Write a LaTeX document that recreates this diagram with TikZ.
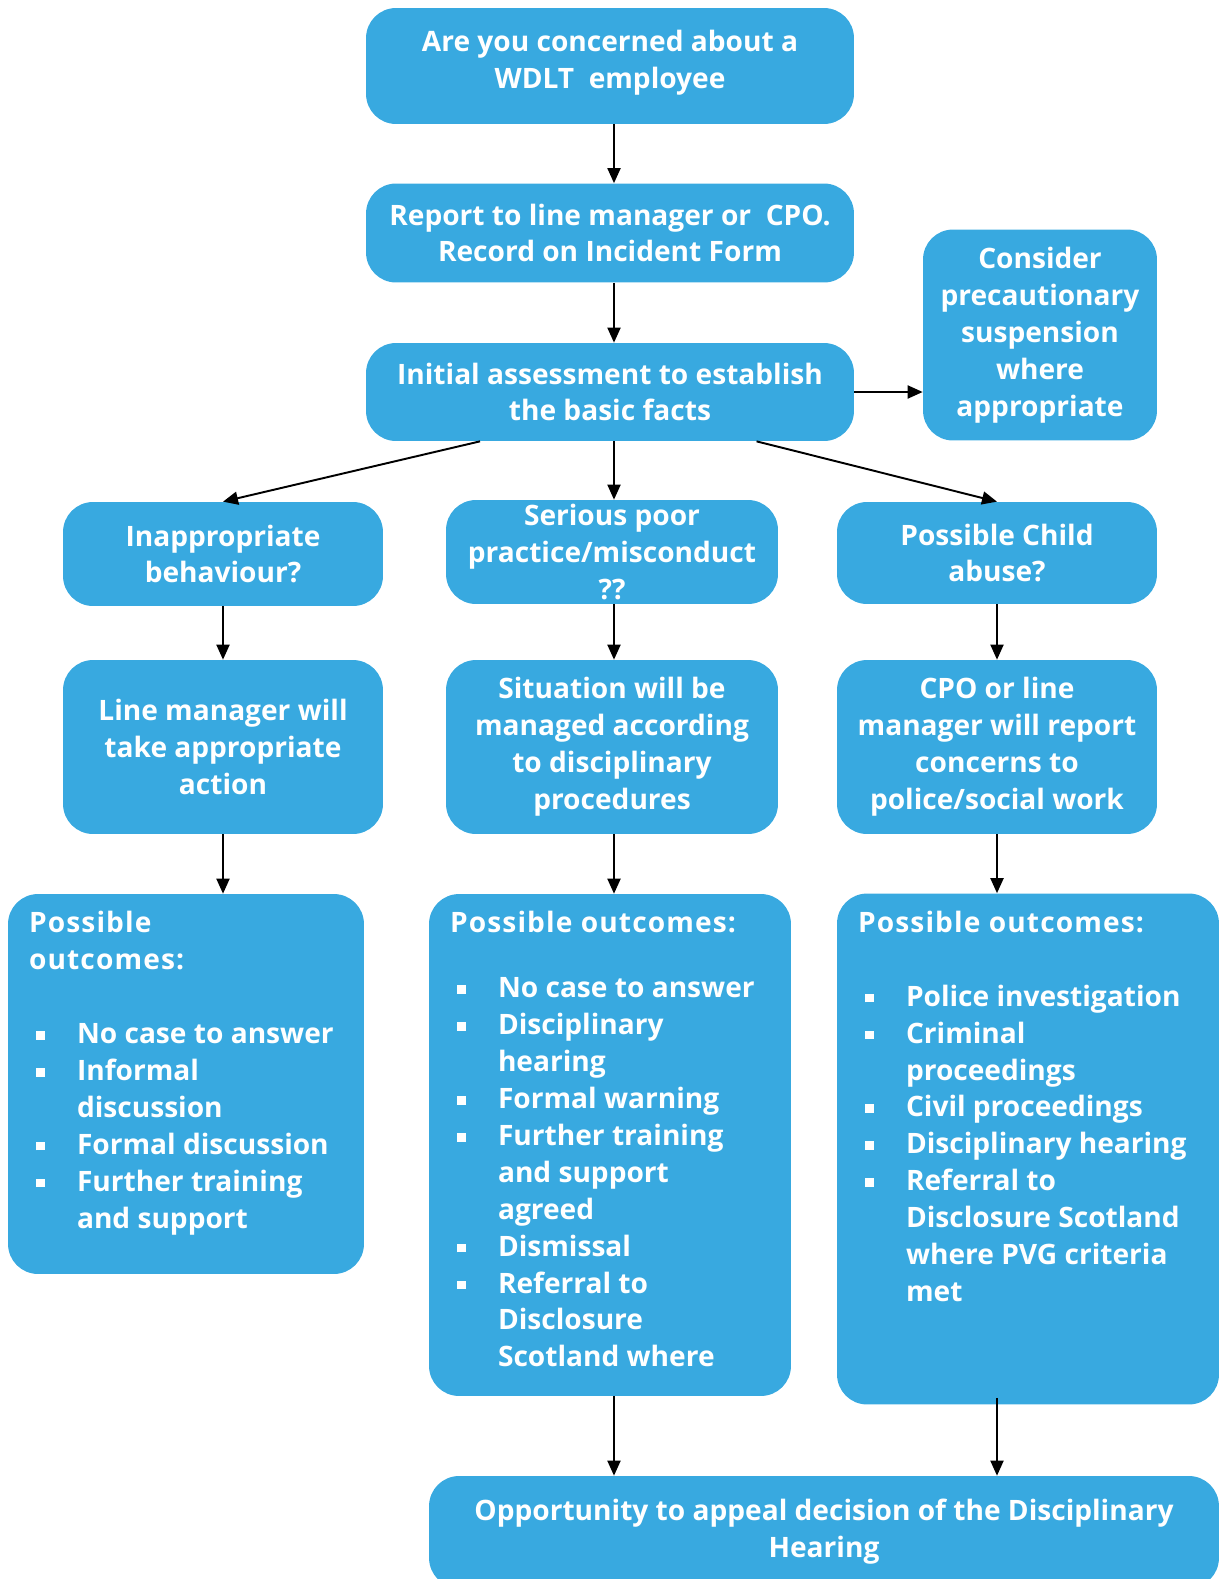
\documentclass[tikz,border=0pt]{standalone}
\usepackage{fontspec}
\setmainfont{Open Sans}
\usetikzlibrary{arrows.meta,calc}
\definecolor{boxblue}{HTML}{38A9E0}
\newcommand\bul{\par\hangindent=0.96cm\hangafter=1\noindent\makebox[0.96cm][l]{\hspace{0.14cm}\rule[0.14em]{0.17cm}{0.17cm}}}
\newcommand\outtext[3]{\parbox[c][#2][t]{#1}{\parindent=0pt\rightskip=0pt plus 1fil #3}}
\newcommand\outhead[1]{{\addfontfeature{LetterSpace=4}#1}}

\tikzset{
  box/.style={fill=boxblue, rounded corners=0.6cm, text=white, align=center,
    font=\fontsize{16}{21}\selectfont\bfseries, inner sep=0pt},
  outbox/.style={box, align=left},
  arr/.style={line width=1.1pt, -{Triangle[length=0.3cm,width=0.26cm]}}
}

\begin{document}
\begin{tikzpicture}[x=0.02cm, y=-0.02cm]
			%%%%% START %%%%%
			\useasboundingbox (0, 0) rectangle (1221, 1579);
			
			\node[box, minimum width=9.76cm, minimum height=2.32cm] (concern) at (610, 66) {Are you concerned about a\\WDLT\ \ employee\vspace{4pt}};
			\node[box, minimum width=9.76cm, minimum height=1.98cm] (report) at (610, 233) {Report to line manager or\ \ CPO.\\Record on Incident Form};
			\node[box, minimum width=9.76cm, minimum height=1.96cm] (initial) at (610, 392) {Initial assessment to establish\\the basic facts};
			\node[box, minimum width=4.68cm, minimum height=4.22cm] (suspend) at (1040, 335) {Consider\\precautionary\\suspension\\where\\appropriate};
			
			\node[box, minimum width=6.4cm, minimum height=2.08cm] (inapp) at (223, 554) {Inappropriate\\behaviour?};
			\node[box, minimum width=6.64cm, minimum height=2.08cm] (serious) at (612, 552) {Serious poor\\practice/misconduct\\??};
			\node[box, minimum width=6.4cm, minimum height=2.04cm] (abuse) at (997, 553) {Possible Child\\abuse?};
			
			\node[box, minimum width=6.4cm, minimum height=3.48cm] (linemgr) at (223, 747) {Line manager will\\take appropriate\\action};
			\node[box, minimum width=6.64cm, minimum height=3.48cm] (situation) at (612, 747) {Situation will be\\managed according\\to disciplinary\\procedures};
			\node[box, minimum width=6.4cm, minimum height=3.48cm] (police) at (997, 747) {CPO or line\\manager will report\\concerns to\\police/social work};
			
			\node[outbox, minimum width=7.12cm, minimum height=7.6cm] (outL) at (186, 1084) {\outtext{6.28cm}{6.9cm}{\outhead{Possible\newline outcomes:}\par\vspace{21pt}
				\bul No case to answer\bul Informal\newline discussion\bul Formal discussion\bul Further training\newline and support}};
			\node[outbox, minimum width=7.24cm, minimum height=10.04cm] (outM) at (610, 1145) {\outtext{6.4cm}{9.34cm}{\outhead{Possible outcomes:}\par\vspace{16pt}
				\bul No case to answer\bul Disciplinary\newline hearing\bul Formal warning\bul Further training\newline and support\newline agreed\bul Dismissal\bul Referral to\newline Disclosure\newline Scotland where}};
			\node[outbox, minimum width=7.64cm, minimum height=10.22cm] (outR) at (1028, 1149) {\outtext{6.8cm}{9.52cm}{\outhead{Possible outcomes:}\par\vspace{21pt}
				\bul Police investigation\bul Criminal\newline proceedings\bul Civil proceedings\bul Disciplinary hearing\bul Referral to\newline Disclosure Scotland\newline where PVG criteria\newline met}};
			
			\node[box, minimum width=15.8cm, minimum height=2.24cm] (appeal) at (824, 1532) {Opportunity to appeal decision of the Disciplinary\\Hearing};
			
			\draw[arr] ($(concern.south)+(4, 0)$) -- ($(report.north)+(4, 0)$);
			\draw[arr] ($(report.south)+(4, 0)$) -- ($(initial.north)+(4, 0)$);
			\draw[arr] (initial.east) -- (initial.east -| suspend.west);
			\draw[arr] ($(initial.south west)!0.234!(initial.south east)$) -- (inapp.north);
			\draw[arr] ($(initial.south)+(4, 0)$) -- ($(initial.south |- serious.north)+(4, 0)$);
			\draw[arr] ($(initial.south west)!0.80!(initial.south east)$) -- (abuse.north);
			
			\draw[arr] (inapp) -- (linemgr);
			\draw[arr] ($(serious.south)+(2, 0)$) -- ($(situation.north)+(2, 0)$);
			\draw[arr] (abuse) -- (police);
			
			\draw[arr] (linemgr.south) -- (linemgr.south |- outL.north);
			\draw[arr] ($(situation.south)+(2, 0)$) -- ($(situation.south |- outM.north)+(2, 0)$);
			\draw[arr] (police.south) -- (police.south |- outR.north);
			
			\draw[arr] ($(outM.south)+(4, 0)$) -- ($(outM.south |- appeal.north)+(4, 0)$);
			\draw[arr] ($(police.south |- outR.south)+(0, -7)$) -- (police.south |- appeal.north);
			%%%%% END %%%%%
\end{tikzpicture}
\end{document}
